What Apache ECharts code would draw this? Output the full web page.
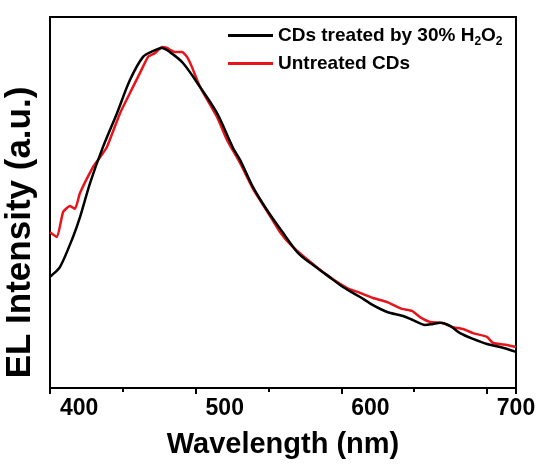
<!DOCTYPE html>
<html>
<head>
<meta charset="utf-8">
<script src="https://cdn.jsdelivr.net/npm/echarts@6/dist/echarts.min.js"></script>
<style>
  html, body { margin: 0; padding: 0; background: #fff; }
  #chart { width: 542px; height: 465px; }
</style>
</head>
<body>
<div id="chart"></div>
<script>
// wavelength (nm) / normalized EL intensity
const treatedX = [380, 381.4, 386.9, 395.8, 400.6, 407.5, 416.4, 426.0, 434.9, 443.9, 450.7, 456.9, 462.4, 471.3, 483.0, 494.7, 505.7, 510.5, 519.4, 529.0, 540.0, 550.3, 558.6, 570.2, 581.2, 592.9, 601.8, 611.5, 622.4, 629.3, 637.6, 643.0, 647.9, 654.7, 661.6, 670.5, 680.1, 689.1, 700];
const treatedY = [0.326, 0.331, 0.355, 0.443, 0.501, 0.601, 0.707, 0.806, 0.903, 0.971, 0.988, 0.997, 0.985, 0.953, 0.883, 0.806, 0.704, 0.669, 0.589, 0.522, 0.455, 0.396, 0.367, 0.331, 0.296, 0.267, 0.243, 0.223, 0.211, 0.199, 0.185, 0.188, 0.191, 0.182, 0.161, 0.144, 0.129, 0.120, 0.106];

const untreatedX = [380, 384.8, 389.0, 393.7, 397.2, 400.6, 409.5, 413.0, 419.1, 428.1, 437.0, 441.8, 447.3, 452.1, 456.9, 460.4, 465.9, 470.7, 474.1, 477.5, 483.0, 494.7, 501.6, 510.5, 519.4, 529.0, 538.0, 546.9, 558.6, 570.2, 584.0, 592.9, 601.8, 611.5, 621.8, 628.6, 634.1, 641.0, 649.2, 656.1, 663.7, 670.5, 680.1, 684.3, 693.9, 700];
const untreatedY = [0.457, 0.443, 0.516, 0.534, 0.525, 0.572, 0.648, 0.669, 0.707, 0.806, 0.883, 0.924, 0.971, 0.982, 1.0, 0.997, 0.985, 0.985, 0.971, 0.941, 0.883, 0.795, 0.727, 0.660, 0.584, 0.519, 0.457, 0.413, 0.370, 0.331, 0.293, 0.279, 0.264, 0.252, 0.232, 0.226, 0.208, 0.194, 0.191, 0.179, 0.173, 0.161, 0.150, 0.132, 0.126, 0.120];

const seriesNames = ["treated", "untreated"];

function pairs(xs, ys) {
  return xs.map((x, i) => [x, ys[i]]);
}

const chart = echarts.init(document.getElementById("chart"), null, { renderer: "canvas" });

const fontFamily = "Liberation Sans, Arial, sans-serif";

const option = {
  animation: false,
  textStyle: { fontFamily: fontFamily },
  grid: {
    left: 50,
    right: 26,
    top: 17,
    bottom: 77,
    outerBoundsMode: "none",
    containLabel: false,
    show: true,
    borderColor: "#000",
    borderWidth: 2,
  },
  legend: {
    orient: "vertical",
    left: 228,
    top: 26,
    padding: 0,
    itemWidth: 45,
    itemHeight: 3,
    itemGap: 6,
    icon: "rect",
    data: seriesNames,
    formatter: (name) => {
      if (name === "treated") {
        return "{a|CDs treated by 30% H}{s|2}{a|O}{s|2}";
      }
      return "{a|Untreated CDs}";
    },
    textStyle: {
      rich: {
        a: { fontSize: 19, fontWeight: "bold", color: "#000", fontFamily: fontFamily, lineHeight: 23 },
        s: { fontSize: 12, fontWeight: "bold", color: "#000", fontFamily: fontFamily, padding: [13, 0, 0, 0] },
      },
    },
  },
  xAxis: {
    type: "value",
    min: 380,
    max: 700,
    interval: 100,
    name: "Wavelength (nm)",
    nameLocation: "middle",
    nameGap: 42,
    nameTextStyle: { fontSize: 29, fontWeight: "bold", color: "#000", fontFamily: fontFamily },
    axisLine: { show: true, lineStyle: { color: "#000", width: 2 } },
    axisTick: { show: true, inside: false, length: 6, lineStyle: { color: "#000", width: 2 } },
    minorTick: { show: true, splitNumber: 2, length: 4, lineStyle: { color: "#000", width: 2 } },
    axisLabel: {
      fontSize: 23,
      fontWeight: "bold",
      color: "#000",
      margin: 9,
      customValues: [400, 500, 600, 700],
    },
    splitLine: { show: false },
  },
  yAxis: {
    type: "value",
    min: 0,
    max: 1.088,
    name: "EL Intensity (a.u.)",
    nameLocation: "middle",
    nameGap: 12,
    nameTextStyle: {
      fontSize: 35,
      fontWeight: "bold",
      color: "#000",
      fontFamily: fontFamily,
      padding: [0, 0, 0, -60],
    },
    axisLine: { show: true, lineStyle: { color: "#000", width: 2 } },
    axisTick: { show: false },
    axisLabel: { show: false },
    splitLine: { show: false },
  },
  series: [
    {
      name: "treated",
      type: "line",
      data: pairs(treatedX, treatedY),
      smooth: 0.3,
      symbol: "none",
      lineStyle: { color: "#000", width: 2.5 },
      itemStyle: { color: "#000" },
      z: 3,
    },
    {
      name: "untreated",
      type: "line",
      data: pairs(untreatedX, untreatedY),
      smooth: 0.15,
      symbol: "none",
      lineStyle: { color: "#e8141b", width: 2.5 },
      itemStyle: { color: "#e8141b" },
      z: 2,
    },
  ],
};

chart.setOption(option);
</script>
</body>
</html>
